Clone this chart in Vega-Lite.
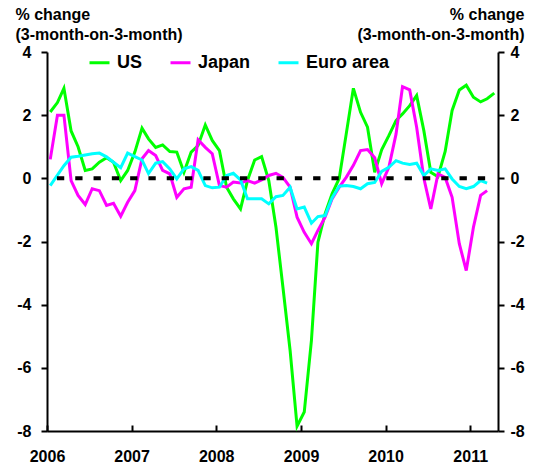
{
  "$schema": "https://vega.github.io/schema/vega-lite/v6.json",
  "width": 451,
  "height": 379,
  "autosize": {"type": "none"},
  "padding": {"left": 47, "top": 52, "right": 36, "bottom": 39},
  "config": {
    "view": {"stroke": null},
    "font": "Liberation Sans",
    "axis": {
      "domainColor": "black", "domainWidth": 2, "tickColor": "black", "tickWidth": 2,
      "labelColor": "black", "labelFont": "Liberation Sans", "labelFontSize": 16, "labelFontWeight": "bold",
      "grid": false, "titleFont": "Liberation Sans", "titleFontSize": 16, "titleFontWeight": "bold", "titleColor": "black"
    },
    "legend": {
      "labelFont": "Liberation Sans", "labelFontSize": 18, "labelFontWeight": "bold", "labelColor": "black"
    }
  },
  "data": {"values": [
    {"date": "2006/01/15", "US": 2.1, "Japan": 0.6, "Euro area": -0.23},
    {"date": "2006/02/15", "US": 2.4, "Japan": 2.0, "Euro area": 0.1},
    {"date": "2006/03/15", "US": 2.85, "Japan": 2.0, "Euro area": 0.4},
    {"date": "2006/04/15", "US": 1.5, "Japan": -0.07, "Euro area": 0.67},
    {"date": "2006/05/15", "US": 1.0, "Japan": -0.54, "Euro area": 0.7},
    {"date": "2006/06/15", "US": 0.25, "Japan": -0.83, "Euro area": 0.74},
    {"date": "2006/07/15", "US": 0.3, "Japan": -0.33, "Euro area": 0.78},
    {"date": "2006/08/15", "US": 0.51, "Japan": -0.39, "Euro area": 0.8},
    {"date": "2006/09/15", "US": 0.65, "Japan": -0.86, "Euro area": 0.68},
    {"date": "2006/10/15", "US": 0.51, "Japan": -0.79, "Euro area": 0.51},
    {"date": "2006/11/15", "US": -0.07, "Japan": -1.2, "Euro area": 0.34},
    {"date": "2006/12/15", "US": 0.25, "Japan": -0.76, "Euro area": 0.8},
    {"date": "2007/01/15", "US": 0.83, "Japan": -0.39, "Euro area": 0.69},
    {"date": "2007/02/15", "US": 1.59, "Japan": 0.62, "Euro area": 0.58},
    {"date": "2007/03/15", "US": 1.25, "Japan": 0.88, "Euro area": 0.15},
    {"date": "2007/04/15", "US": 0.98, "Japan": 0.72, "Euro area": 0.48},
    {"date": "2007/05/15", "US": 1.06, "Japan": 0.25, "Euro area": 0.53},
    {"date": "2007/06/15", "US": 0.85, "Japan": 0.14, "Euro area": 0.3},
    {"date": "2007/07/15", "US": 0.83, "Japan": -0.6, "Euro area": -0.02},
    {"date": "2007/08/15", "US": 0.19, "Japan": -0.33, "Euro area": 0.3},
    {"date": "2007/09/15", "US": 0.83, "Japan": -0.28, "Euro area": 0.37},
    {"date": "2007/10/15", "US": 1.04, "Japan": 1.22, "Euro area": 0.25},
    {"date": "2007/11/15", "US": 1.69, "Japan": 0.98, "Euro area": -0.23},
    {"date": "2007/12/15", "US": 1.2, "Japan": 0.78, "Euro area": -0.3},
    {"date": "2008/01/15", "US": 0.88, "Japan": -0.23, "Euro area": -0.28},
    {"date": "2008/02/15", "US": -0.28, "Japan": -0.28, "Euro area": 0.09},
    {"date": "2008/03/15", "US": -0.65, "Japan": -0.12, "Euro area": 0.16},
    {"date": "2008/04/15", "US": -0.97, "Japan": -0.15, "Euro area": -0.05},
    {"date": "2008/05/15", "US": -0.07, "Japan": -0.07, "Euro area": -0.65},
    {"date": "2008/06/15", "US": 0.58, "Japan": -0.15, "Euro area": -0.65},
    {"date": "2008/07/15", "US": 0.69, "Japan": -0.05, "Euro area": -0.65},
    {"date": "2008/08/15", "US": -0.07, "Japan": 0.09, "Euro area": -0.81},
    {"date": "2008/09/15", "US": -1.55, "Japan": 0.16, "Euro area": -0.58},
    {"date": "2008/10/15", "US": -3.45, "Japan": 0.03, "Euro area": -0.54},
    {"date": "2008/11/15", "US": -5.45, "Japan": -0.28, "Euro area": -0.28},
    {"date": "2008/12/15", "US": -7.85, "Japan": -1.23, "Euro area": -0.97},
    {"date": "2009/01/15", "US": -7.4, "Japan": -1.71, "Euro area": -0.91},
    {"date": "2009/02/15", "US": -5.13, "Japan": -2.07, "Euro area": -1.42},
    {"date": "2009/03/15", "US": -2.02, "Japan": -1.65, "Euro area": -1.21},
    {"date": "2009/04/15", "US": -1.12, "Japan": -1.23, "Euro area": -1.18},
    {"date": "2009/05/15", "US": -0.49, "Japan": -0.65, "Euro area": -0.62},
    {"date": "2009/06/15", "US": 0.0, "Japan": -0.28, "Euro area": -0.25},
    {"date": "2009/07/15", "US": 1.4, "Japan": 0.03, "Euro area": -0.23},
    {"date": "2009/08/15", "US": 2.85, "Japan": 0.41, "Euro area": -0.26},
    {"date": "2009/09/15", "US": 2.09, "Japan": 0.88, "Euro area": -0.33},
    {"date": "2009/10/15", "US": 1.62, "Japan": 0.91, "Euro area": -0.17},
    {"date": "2009/11/15", "US": 0.19, "Japan": 0.65, "Euro area": -0.13},
    {"date": "2009/12/15", "US": 0.9, "Japan": -0.17, "Euro area": 0.22},
    {"date": "2010/01/15", "US": 1.35, "Japan": 0.35, "Euro area": 0.35},
    {"date": "2010/02/15", "US": 1.83, "Japan": 1.4, "Euro area": 0.56},
    {"date": "2010/03/15", "US": 2.04, "Japan": 2.9, "Euro area": 0.48},
    {"date": "2010/04/15", "US": 2.3, "Japan": 2.8, "Euro area": 0.44},
    {"date": "2010/05/15", "US": 2.62, "Japan": 1.62, "Euro area": 0.48},
    {"date": "2010/06/15", "US": 1.51, "Japan": 0.0, "Euro area": 0.09},
    {"date": "2010/07/15", "US": 0.19, "Japan": -0.97, "Euro area": 0.3},
    {"date": "2010/08/15", "US": 0.05, "Japan": 0.14, "Euro area": 0.25},
    {"date": "2010/09/15", "US": 0.85, "Japan": 0.03, "Euro area": 0.3},
    {"date": "2010/10/15", "US": 2.15, "Japan": -0.6, "Euro area": -0.02},
    {"date": "2010/11/15", "US": 2.8, "Japan": -2.07, "Euro area": -0.26},
    {"date": "2010/12/15", "US": 2.95, "Japan": -2.92, "Euro area": -0.33},
    {"date": "2011/01/15", "US": 2.57, "Japan": -1.55, "Euro area": -0.26},
    {"date": "2011/02/15", "US": 2.42, "Japan": -0.54, "Euro area": -0.07},
    {"date": "2011/03/15", "US": 2.52, "Japan": -0.39, "Euro area": -0.15},
    {"date": "2011/04/15", "US": 2.7, "Japan": null, "Euro area": null}
  ]},
  "layer": [
    {
      "transform": [{"fold": ["US", "Japan", "Euro area"], "as": ["series", "value"]}],
      "mark": {"type": "line", "strokeWidth": 3},
      "encoding": {
        "x": {
          "field": "date", "type": "temporal",
          "scale": {"domain": [{"year": 2006, "month": 1, "date": 1}, {"year": 2011, "month": 5, "date": 1}], "nice": false},
          "axis": {
            "title": null, "format": "%Y", "tickSize": -6, "labelPadding": 23, "labelDx": 3,
            "labelFlush": false, "labelOverlap": false,
            "values": [
              {"year": 2006, "month": 1, "date": 1}, {"year": 2007, "month": 1, "date": 1},
              {"year": 2008, "month": 1, "date": 1}, {"year": 2009, "month": 1, "date": 1},
              {"year": 2010, "month": 1, "date": 1}, {"year": 2011, "month": 1, "date": 1}
            ]
          }
        },
        "y": {
          "field": "value", "type": "quantitative",
          "scale": {"domain": [-8, 4], "nice": false, "zero": false},
          "axis": {
            "orient": "left", "values": [-8, -6, -4, -2, 0, 2, 4], "tickSize": 6, "labelPadding": 10,
            "labelExpr": "'' + datum.value",
            "title": ["% change", "\u00a0(3-month-on-3-month)"], "titleAngle": 0, "titleAlign": "left",
            "titleBaseline": "alphabetic", "titleX": -32, "titleY": -33, "titleLineHeight": 20
          }
        },
        "color": {
          "field": "series", "type": "nominal",
          "scale": {"domain": ["US", "Japan", "Euro area"], "range": ["#00FF00", "#FF00FF", "#00FFFF"]},
          "sort": ["US", "Japan", "Euro area"],
          "legend": {
            "title": null, "orient": "none", "direction": "horizontal", "legendX": 41, "legendY": -1,
            "symbolType": "stroke", "symbolSize": 400, "symbolStrokeWidth": 3,
            "labelOffset": 6, "columnPadding": 21, "padding": 0
          }
        }
      }
    },
    {
      "data": {"values": [{}]},
      "mark": {"type": "rule", "color": "black", "strokeWidth": 4, "strokeDash": [7.3, 11], "strokeDashOffset": 11.6},
      "encoding": {
        "x": {"datum": {"year": 2006, "month": 1, "date": 15}, "type": "temporal"},
        "x2": {"datum": {"year": 2011, "month": 4, "date": 15}},
        "y": {
          "datum": 0, "type": "quantitative",
          "axis": {
            "orient": "right", "values": [-8, -6, -4, -2, 0, 2, 4], "tickSize": 6, "labelPadding": 6,
            "labelExpr": "'' + datum.value",
            "title": ["% change", "(3-month-on-3-month)"], "titleAngle": 0, "titleAlign": "right",
            "titleBaseline": "alphabetic", "titleX": 26, "titleY": -33, "titleLineHeight": 20
          }
        }
      }
    }
  ],
  "resolve": {"axis": {"y": "independent"}}
}
